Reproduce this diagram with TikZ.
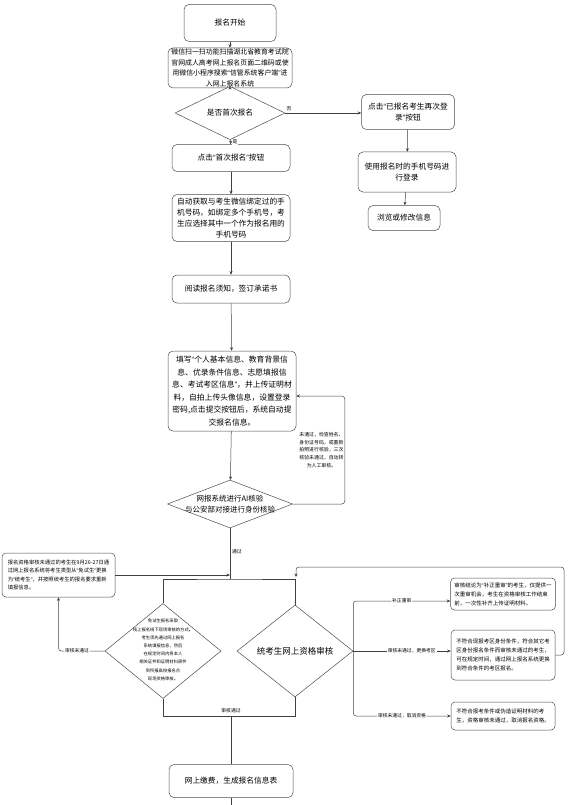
\documentclass[tikz,border=0pt]{standalone}
\usepackage{fontspec}
\setmainfont{Noto Sans CJK SC}
\newfontfamily\qfont{Liberation Sans}
\usetikzlibrary{arrows.meta, shapes.geometric}
\newcommand{\fsz}[2]{\fontsize{#1}{#2}\selectfont}
\newcommand{\oq}{{\qfont “}}
\newcommand{\cq}{{\qfont ”}}
\tikzset{
  blk/.style={rectangle, rounded corners=5pt, draw=black!70, line width=0.5pt, fill=white,
              align=center, inner sep=1pt, font=\fsz{7.7}{11}},
  infobox/.style={blk, rounded corners=4pt, align=left, font=\fsz{5.5}{9}},
  dia/.style={diamond, draw=black!70, line width=0.5pt, fill=white, inner sep=0pt},
  dtext/.style={align=center, inner sep=0pt},
  flow/.style={-{Stealth[length=3.5pt, width=3pt]}, line width=0.5pt, draw=black!75},
  link/.style={line width=0.5pt, draw=black!75},
  elbl/.style={font=\fsz{4.8}{5.5}, inner sep=0.8pt, fill=white},
}

\begin{document}
\begin{tikzpicture}[x=1pt, y=-1pt]
  \useasboundingbox (0,0) rectangle (569,805);
  % main column
  \node[blk, minimum width=92pt, minimum height=37pt] (start) at (230,23) {报名开始};
  \node[blk, minimum width=124pt, minimum height=40pt, inner sep=0pt, font=\fsz{6.9}{10.6}] (wechat) at (230,68)
       {微信扫一扫功能扫描湖北省教育考试院\\官网成人高考网上报名页面二维码或使\\用微信小程序搜索\oq 信管系统客户端\cq 进\\入网上报名系统};
  \node[dia, minimum width=110pt, minimum height=34pt, font=\fsz{7.7}{9}] (first) at (230,113) {是否首次报名};
  \node[blk, minimum width=118pt, minimum height=27pt] (click) at (231,158) {点击\oq 首次报名\cq 按钮};
  \node[blk, minimum width=118pt, minimum height=47pt] (auto) at (231,218)
       {自动获取与考生微信绑定过的手\\机号码，如绑定多个手机号，考\\生应选择其中一个作为报名用的\\手机号码};
  \node[blk, minimum width=118pt, minimum height=28pt] (read) at (231,289) {阅读报名须知，签订承诺书};
  \node[blk, minimum width=128pt, minimum height=80pt, font=\fsz{7.8}{12.5}] (fill) at (232,391)
       {填写\oq 个人基本信息、教育背景信\\息、优录条件信息、志愿填报信\\息、考试考区信息\cq ，并上传证明材\\料，自拍上传头像信息，设置登录\\密码,点击提交按钮后，系统自动提\\交报名信息。};
  \node[dia, minimum width=125pt, minimum height=48pt] (ai) at (230,504) {};
  \node[dtext, font=\fsz{7.5}{11}] (ai-t) at (ai) {网报系统进行AI核验\\与公安部对接进行身份核验};
  % right column
  \node[blk, minimum width=93pt, minimum height=35pt] (again) at (408,112) {点击\oq 已报名考生再次登\\录\cq 按钮};
  \node[blk, minimum width=98pt, minimum height=40pt] (login) at (407,172) {使用报名时的手机号码进\\行登录};
  \node[blk, minimum width=72pt, minimum height=25pt] (browse) at (404,218) {浏览或修改信息};
  % review part
  \node[infobox, minimum width=113pt, minimum height=44pt, font=\fsz{5.3}{8.4}] (redo) at (58.5,575)
       {报名资格审核未通过的考生在9月26-27日通\\过网上报名系统将考生类型从\oq 免试生\cq 更换\\为\oq 统考生\cq ，并按照统考生的报名要求重新\\填报信息。};
  \node[dia, minimum width=116pt, minimum height=95pt] (exempt) at (163,651) {};
  \node[dtext, font=\fsz{4.3}{8.2}] (exempt-t) at (163,650)
       {免试生报名采取\\线上报名线下现场审核的方式。\\考生须先通过网上报名\\系统填报信息，然后\\在规定时间内将本人\\相关证件和证明材料原件\\到所报高校报名点\\现场资格审核。};
  \node[dia, minimum width=116pt, minimum height=92pt, font=\fsz{8.5}{10}] (unified) at (295,651) {统考生网上资格审核};
  \node[infobox, minimum width=105pt, minimum height=32pt] (patch) at (503,594)
       {审核结论为\oq 补正重审\cq 的考生，仅提供一\\次重审机会，考生在资格审核工作结束\\前，一次性补齐上传证明材料。};
  \node[infobox, minimum width=104pt, minimum height=50pt] (switch) at (503,655)
       {不符合现报考区身份条件，符合其它考\\区身份报名条件而审核未通过的考生，\\可在规定时间，通过网上报名系统更换\\到符合条件的考区报名。};
  \node[infobox, minimum width=104pt, minimum height=28pt] (cancel) at (503,716)
       {不符合报考条件或伪造证明材料的考\\生，资格审核未通过，取消报名资格。};
  \node[blk, minimum width=124pt, minimum height=33pt] (pay) at (231,781) {网上缴费，生成报名信息表};
  \coordinate (fork) at (230,579);
  \coordinate (merge) at (231,716);
  \coordinate (loop) at (564,567);
  \coordinate (back) at (296,577);
  \coordinate (tail) at (231,805);
  % connectors
  \draw[flow] (start) -- (wechat);
  \draw[flow] (wechat) -- (first);
  \draw[flow] (first) -- node[elbl, right=1pt] {是} (click);
  \draw[flow] (first.east) -- node[elbl, above=1pt, pos=0.05] {否} (first.east -| again.west);
  \draw[flow] (click) -- (auto);
  \draw[flow] (auto) -- (read);
  \draw[flow] (read) -- (fill);
  \draw[flow] (fill) -- (ai);
  \draw[flow] (again) -- (login);
  \draw[flow] (login) -- (browse);
  \draw[flow, rounded corners=3pt] (ai.east) -- ++(52,0) |- ([yshift=-5pt]fill.east)
        node[pos=0.25, left=1pt, align=center, inner sep=0pt, font=\fsz{4.9}{7.8}]
        {未通过，检查姓名、\\身份证号码，或重新\\拍照进行核验，三次\\核验未通过，自动转\\为人工审核。};
  \draw[link] (ai.south) -- node[elbl, right=1pt, pos=0.47] {通过} (fork);
  \draw[link] (exempt.north) |- (fork) -| (unified.north);
  \draw[flow] (redo.east) -- (redo.east -| fork);
  \draw[flow, rounded corners=3pt] (exempt.west) -| node[elbl, pos=0.3] {审核未通过} (redo.south);
  \draw[link] (exempt.south) |- (merge);
  \draw[link] (unified.south) |- (merge);
  \draw[link] (merge) node[elbl, above=2pt] {审核通过} -- (pay.north);
  \draw[link] (pay.south) -- (tail);
  \draw[flow, rounded corners=3pt] (unified.east) |- node[elbl, pos=0.75] {补正重审} ([yshift=-7pt]patch.west);
  \draw[flow] (unified.east) -- node[elbl, pos=0.6] {审核未通过，更换考区} (unified.east -| switch.west);
  \draw[flow, rounded corners=3pt] (unified.east) |- node[elbl, pos=0.75] {审核未通过，取消资格} (cancel.west);
  \draw[flow, rounded corners=3pt] (switch.east) -| (loop) -| (back);
\end{tikzpicture}
\end{document}
